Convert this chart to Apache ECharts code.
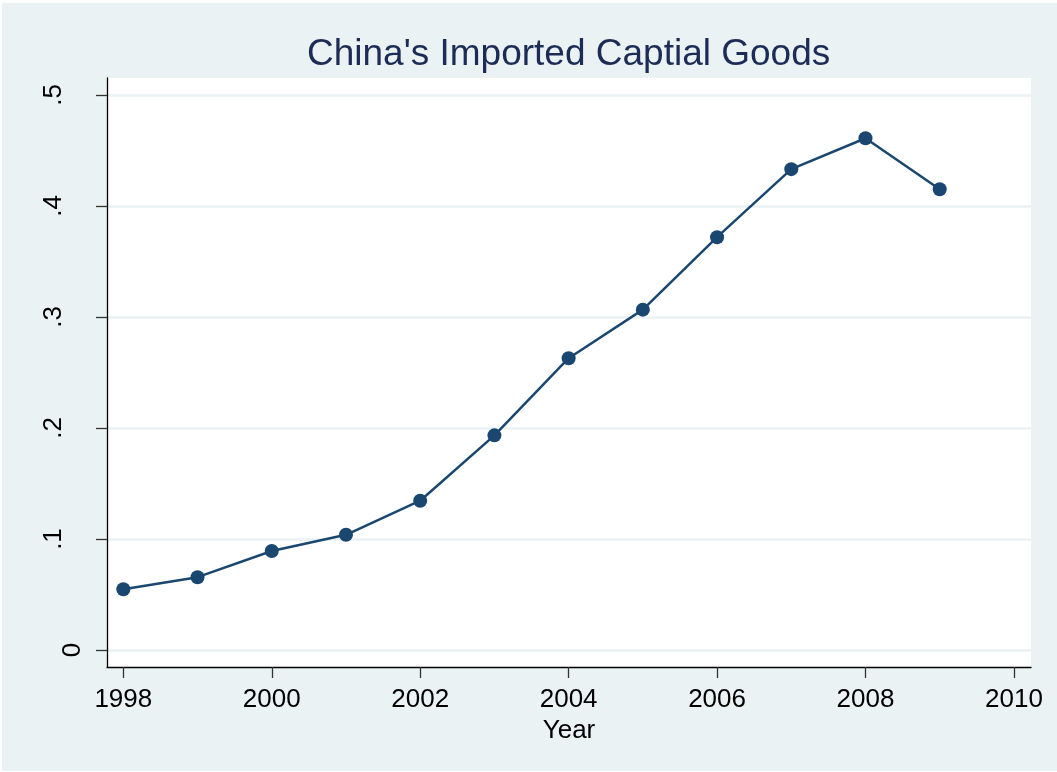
<!DOCTYPE html>
<html>
<head>
<meta charset="utf-8">
<script src="https://cdn.jsdelivr.net/npm/echarts@6/dist/echarts.min.js"></script>
<style>
html,body{margin:0;padding:0;background:#ffffff;}
#bg{position:absolute;left:2px;top:3px;width:1055px;height:768px;background:#EAF2F3;}
#chart{position:absolute;left:0;top:0;width:1057px;height:772px;}
</style>
</head>
<body>
<div id="bg"></div>
<div id="chart"></div>
<script>
var years = [1998, 1999, 2000, 2001, 2002, 2003, 2004, 2005, 2006, 2007, 2008, 2009];
var values = [0.0548, 0.0656, 0.0892, 0.1038, 0.1345, 0.1934, 0.2629, 0.3066, 0.3719, 0.4332, 0.4610, 0.4151];
var xTicks = [1998, 2000, 2002, 2004, 2006, 2008, 2010];
var yTicks = [0, 0.1, 0.2, 0.3, 0.4, 0.5];
var yTickLabels = ['0', '.1', '.2', '.3', '.4', '.5'];
var yDecTicks = [0.1, 0.2, 0.3, 0.4, 0.5];
var yZeroTick = [0];

var chart = echarts.init(document.getElementById('chart'), null, {renderer: 'canvas'});
var font = 'Liberation Sans, Arial, Helvetica, sans-serif';
function yFmt(v) {
  var i = yTicks.indexOf(v);
  return i >= 0 ? yTickLabels[i] : '';
}
var yMin = -0.0153, yMax = 0.5153;
chart.setOption({
  backgroundColor: 'transparent',
  animation: false,
  title: {
    text: "China's Imported Captial Goods",
    left: 307,
    top: 36,
    padding: 0,
    textStyle: {fontFamily: font, fontSize: 37, fontWeight: 'normal', color: '#1C2C56'}
  },
  grid: {
    left: 107, right: 26, top: 78, bottom: 105,
    show: true, backgroundColor: '#ffffff', borderWidth: 0
  },
  xAxis: {
    type: 'value',
    min: 1997.78,
    max: 2010.23,
    name: 'Year',
    nameLocation: 'middle',
    nameGap: 43,
    nameTextStyle: {fontFamily: font, fontSize: 26, color: '#000'},
    axisLine: {show: true, onZero: false, lineStyle: {color: '#000', width: 1.3}},
    axisTick: {show: true, length: 11, customValues: xTicks, lineStyle: {color: '#333', width: 1.3}},
    axisLabel: {customValues: xTicks, margin: 20, fontFamily: font, fontSize: 26, color: '#000',
      formatter: function (v) { return String(v); }},
    splitLine: {show: false}
  },
  yAxis: [{
    type: 'value',
    position: 'left',
    min: yMin,
    max: yMax,
    axisLine: {show: true, onZero: false, lineStyle: {color: '#000', width: 1.3}},
    axisTick: {show: true, length: 11, customValues: yTicks, lineStyle: {color: '#333', width: 1.3}},
    axisLabel: {customValues: yDecTicks, rotate: 90, margin: 40, fontFamily: font, fontSize: 26, color: '#000',
      formatter: yFmt},
    splitLine: {show: true, lineStyle: {color: '#EAF2F3', width: 2.5}}
  }, {
    type: 'value',
    position: 'left',
    offset: 0,
    min: yMin,
    max: yMax,
    axisLine: {show: false},
    axisTick: {show: false},
    axisLabel: {customValues: yZeroTick, rotate: 90, margin: 21, fontFamily: font, fontSize: 26, color: '#000',
      formatter: yFmt},
    splitLine: {show: false}
  }],
  series: [{
    type: 'line',
    yAxisIndex: 0,
    data: years.map(function (y, i) { return [y, values[i]]; }),
    symbol: 'circle',
    symbolSize: 14,
    itemStyle: {color: '#1A476F'},
    lineStyle: {color: '#1A476F', width: 2.5}
  }]
});
</script>
</body>
</html>
